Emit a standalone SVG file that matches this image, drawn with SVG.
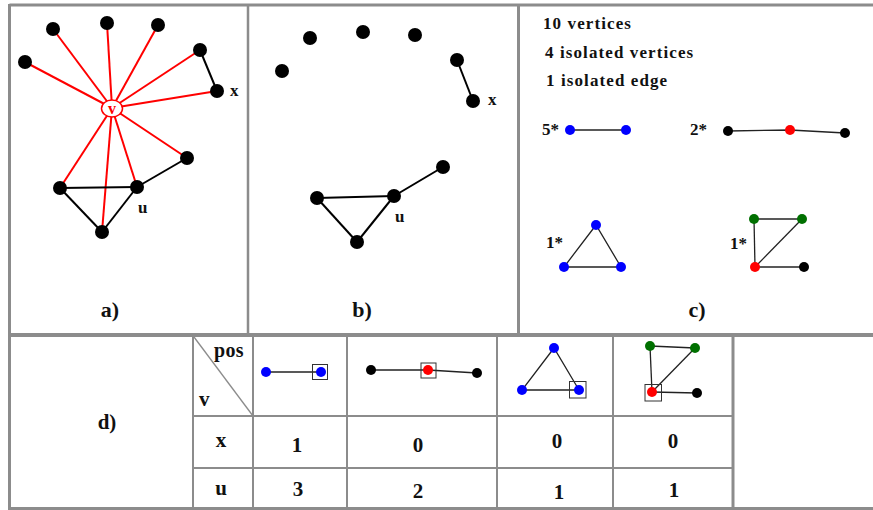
<svg xmlns="http://www.w3.org/2000/svg" width="873" height="510" viewBox="0 0 873 510">
<style>
.frame{fill:none;stroke:#8c8c8c}
.t{font-family:"Liberation Serif",serif;font-weight:bold;fill:#111}
.n{fill:#000}
.red{stroke:#ff0000;stroke-width:2;fill:none}
.blk{stroke:#000;stroke-width:2;fill:none}
.thin{stroke:#222;stroke-width:1.3;fill:none}
.sel{fill:none;stroke:#333;stroke-width:1}
</style>
<rect width="873" height="510" fill="#fff"/>
<!-- frame -->
<g id="frame">
<line class="frame" x1="9.5" y1="5" x2="873" y2="5" stroke-width="3"/>
<line class="frame" x1="9.5" y1="4" x2="9.5" y2="510" stroke-width="3"/>
<line class="frame" x1="9.5" y1="508.5" x2="873" y2="508.5" stroke-width="3"/>
<line class="frame" x1="248" y1="5" x2="248" y2="335" stroke-width="2.5"/>
<line class="frame" x1="518.5" y1="5" x2="518.5" y2="335" stroke-width="3"/>
<line class="frame" x1="9.5" y1="335" x2="873" y2="335" stroke-width="4"/>
<line class="frame" x1="193" y1="337" x2="193" y2="508" stroke-width="2"/>
<line class="frame" x1="253" y1="337" x2="253" y2="508" stroke-width="2"/>
<line class="frame" x1="347" y1="337" x2="347" y2="508" stroke-width="2"/>
<line class="frame" x1="497" y1="337" x2="497" y2="508" stroke-width="2"/>
<line class="frame" x1="613" y1="337" x2="613" y2="508" stroke-width="2"/>
<line class="frame" x1="733" y1="337" x2="733" y2="508" stroke-width="3"/>
<line class="frame" x1="193" y1="416" x2="733" y2="416" stroke-width="2"/>
<line class="frame" x1="193" y1="468" x2="733" y2="468" stroke-width="2"/>
<line x1="194" y1="337" x2="253" y2="416" stroke="#8c8c8c" stroke-width="1.3"/>
</g>
<!-- connectors -->
<g id="connectors">
<g id="a-edges">
<line class="red" x1="112" y1="108" x2="25" y2="62"/>
<line class="red" x1="112" y1="108" x2="53" y2="29"/>
<line class="red" x1="112" y1="108" x2="107" y2="23"/>
<line class="red" x1="112" y1="108" x2="158" y2="25"/>
<line class="red" x1="112" y1="108" x2="200" y2="50"/>
<line class="red" x1="112" y1="108" x2="217" y2="91"/>
<line class="red" x1="112" y1="108" x2="187" y2="158"/>
<line class="red" x1="112" y1="108" x2="60" y2="188"/>
<line class="red" x1="112" y1="108" x2="137" y2="187"/>
<line class="red" x1="112" y1="108" x2="102" y2="232"/>
<line class="blk" x1="200" y1="50" x2="217" y2="91"/>
<line class="blk" x1="187" y1="158" x2="137" y2="187"/>
<line class="blk" x1="60" y1="188" x2="137" y2="187"/>
<line class="blk" x1="60" y1="188" x2="102" y2="232"/>
<line class="blk" x1="137" y1="187" x2="102" y2="232"/>
</g>
<g id="b-edges">
<line class="blk" x1="457" y1="60" x2="473" y2="101"/>
<line class="blk" x1="443" y1="167" x2="394" y2="196"/>
<line class="blk" x1="317" y1="198" x2="394" y2="196"/>
<line class="blk" x1="317" y1="198" x2="357" y2="242"/>
<line class="blk" x1="394" y1="196" x2="357" y2="242"/>
</g>
<g id="c-edges">
<line class="thin" x1="570" y1="130" x2="626" y2="130"/>
<polyline class="thin" points="728,131 790,130 845,133"/>
<polygon class="thin" points="596,225 564,267 621,267"/>
<line class="thin" x1="754" y1="219" x2="802" y2="219"/>
<line class="thin" x1="754" y1="219" x2="755" y2="267"/>
<line class="thin" x1="802" y1="219" x2="755" y2="267"/>
<line class="thin" x1="755" y1="267" x2="804" y2="267"/>
</g>
<g id="d-edges">
<line class="thin" x1="266" y1="372" x2="321" y2="372"/>
<polyline class="thin" points="371,370 428,370 477,373"/>
<polygon class="thin" points="554,348 522,390 579,390"/>
<line class="thin" x1="650" y1="346" x2="695" y2="348"/>
<line class="thin" x1="650" y1="346" x2="652" y2="392"/>
<line class="thin" x1="695" y1="348" x2="652" y2="392"/>
<line class="thin" x1="652" y1="392" x2="697" y2="393"/>
</g>
</g>
<!-- panel a nodes -->
<g id="a-n1"><circle class="n" cx="25" cy="62" r="7"/></g>
<g id="a-n2"><circle class="n" cx="53" cy="29" r="7"/></g>
<g id="a-n3"><circle class="n" cx="107" cy="23" r="7"/></g>
<g id="a-n4"><circle class="n" cx="158" cy="25" r="7"/></g>
<g id="a-n5"><circle class="n" cx="200" cy="50" r="7"/></g>
<g id="a-x"><circle class="n" cx="217" cy="91" r="7"/><text class="t" x="230" y="96" font-size="17">x</text></g>
<g id="a-v"><ellipse cx="112" cy="108.5" rx="10.5" ry="8.5" fill="#fff" stroke="#ff0000" stroke-width="1.5"/><text class="t" x="112" y="114" font-size="16" text-anchor="middle" style="fill:#ff0000">v</text></g>
<g id="a-n6"><circle class="n" cx="187" cy="158" r="7"/></g>
<g id="a-n7"><circle class="n" cx="60" cy="188" r="7"/></g>
<g id="a-u"><circle class="n" cx="137" cy="187" r="7"/><text class="t" x="138" y="213" font-size="17">u</text></g>
<g id="a-n8"><circle class="n" cx="102" cy="232" r="7"/></g>
<g id="a-label"><text class="t" x="110" y="317" font-size="22" text-anchor="middle">a)</text></g>
<!-- panel b nodes -->
<g id="b-n1"><circle class="n" cx="282" cy="71" r="7"/></g>
<g id="b-n2"><circle class="n" cx="310" cy="38" r="7"/></g>
<g id="b-n3"><circle class="n" cx="363" cy="32" r="7"/></g>
<g id="b-n4"><circle class="n" cx="415" cy="35" r="7"/></g>
<g id="b-n5"><circle class="n" cx="457" cy="60" r="7"/></g>
<g id="b-x"><circle class="n" cx="473" cy="101" r="7"/><text class="t" x="488" y="105" font-size="17">x</text></g>
<g id="b-n6"><circle class="n" cx="443" cy="167" r="7"/></g>
<g id="b-n7"><circle class="n" cx="317" cy="198" r="7"/></g>
<g id="b-u"><circle class="n" cx="394" cy="196" r="7"/><text class="t" x="395" y="222" font-size="17">u</text></g>
<g id="b-n8"><circle class="n" cx="357" cy="242" r="7"/></g>
<g id="b-label"><text class="t" x="362" y="317" font-size="22" text-anchor="middle">b)</text></g>
<!-- panel c -->
<g id="c-text">
<text class="t" x="543" y="29" font-size="17" letter-spacing="1.1">10 vertices</text>
<text class="t" x="545" y="58" font-size="17" letter-spacing="1.1">4 isolated vertices</text>
<text class="t" x="546" y="86" font-size="17" letter-spacing="1.1">1 isolated edge</text>
</g>
<g id="c-g1"><text class="t" x="542" y="135" font-size="17">5*</text><circle cx="570" cy="130" r="5" fill="#0000ff"/><circle cx="626" cy="130" r="5" fill="#0000ff"/></g>
<g id="c-g2"><text class="t" x="690" y="135" font-size="17">2*</text><circle cx="728" cy="131" r="5" fill="#000"/><circle cx="790" cy="130" r="5" fill="#ff0000"/><circle cx="845" cy="133" r="5" fill="#000"/></g>
<g id="c-g3"><text class="t" x="546" y="248" font-size="17">1*</text><circle cx="596" cy="225" r="5" fill="#0000ff"/><circle cx="564" cy="267" r="5" fill="#0000ff"/><circle cx="621" cy="267" r="5" fill="#0000ff"/></g>
<g id="c-g4"><text class="t" x="730" y="249" font-size="17">1*</text><circle cx="754" cy="219" r="5" fill="#007000"/><circle cx="802" cy="219" r="5" fill="#007000"/><circle cx="755" cy="267" r="5" fill="#ff0000"/><circle cx="804" cy="267" r="5" fill="#000"/></g>
<g id="c-label"><text class="t" x="697" y="317" font-size="22" text-anchor="middle">c)</text></g>
<!-- panel d table -->
<g id="d-label"><text class="t" x="107" y="429" font-size="21" text-anchor="middle">d)</text></g>
<g id="d-header"><text class="t" x="214" y="357" font-size="20" letter-spacing="0.3">pos</text><text class="t" x="199" y="406" font-size="21">v</text></g>
<g id="d-col1"><circle cx="266" cy="372" r="5" fill="#0000ff"/><circle cx="321" cy="372" r="5" fill="#0000ff"/><rect class="sel" x="312.5" y="364.5" width="15" height="15"/></g>
<g id="d-col2"><circle cx="371" cy="370" r="5" fill="#000"/><circle cx="428" cy="370" r="5" fill="#ff0000"/><circle cx="477" cy="373" r="5" fill="#000"/><rect class="sel" x="421" y="363" width="15" height="15"/></g>
<g id="d-col3"><circle cx="554" cy="348" r="5" fill="#0000ff"/><circle cx="522" cy="390" r="5" fill="#0000ff"/><circle cx="579" cy="390" r="5" fill="#0000ff"/><rect class="sel" x="569.5" y="381.5" width="16.5" height="16.5"/></g>
<g id="d-col4"><circle cx="650" cy="346" r="5" fill="#007000"/><circle cx="695" cy="348" r="5" fill="#007000"/><circle cx="652" cy="392" r="5" fill="#ff0000"/><circle cx="697" cy="393" r="5" fill="#000"/><rect class="sel" x="645" y="384.5" width="16.5" height="16.5"/></g>
<g id="d-row-x">
<text class="t" x="221" y="447" font-size="21" text-anchor="middle">x</text>
<text class="t" x="297" y="452" font-size="21" text-anchor="middle">1</text>
<text class="t" x="418" y="452" font-size="21" text-anchor="middle">0</text>
<text class="t" x="557" y="448" font-size="21" text-anchor="middle">0</text>
<text class="t" x="673" y="448" font-size="21" text-anchor="middle">0</text>
</g>
<g id="d-row-u">
<text class="t" x="221" y="495" font-size="21" text-anchor="middle">u</text>
<text class="t" x="298" y="496" font-size="21" text-anchor="middle">3</text>
<text class="t" x="418" y="498" font-size="21" text-anchor="middle">2</text>
<text class="t" x="559" y="499" font-size="21" text-anchor="middle">1</text>
<text class="t" x="674" y="497" font-size="21" text-anchor="middle">1</text>
</g>
</svg>
